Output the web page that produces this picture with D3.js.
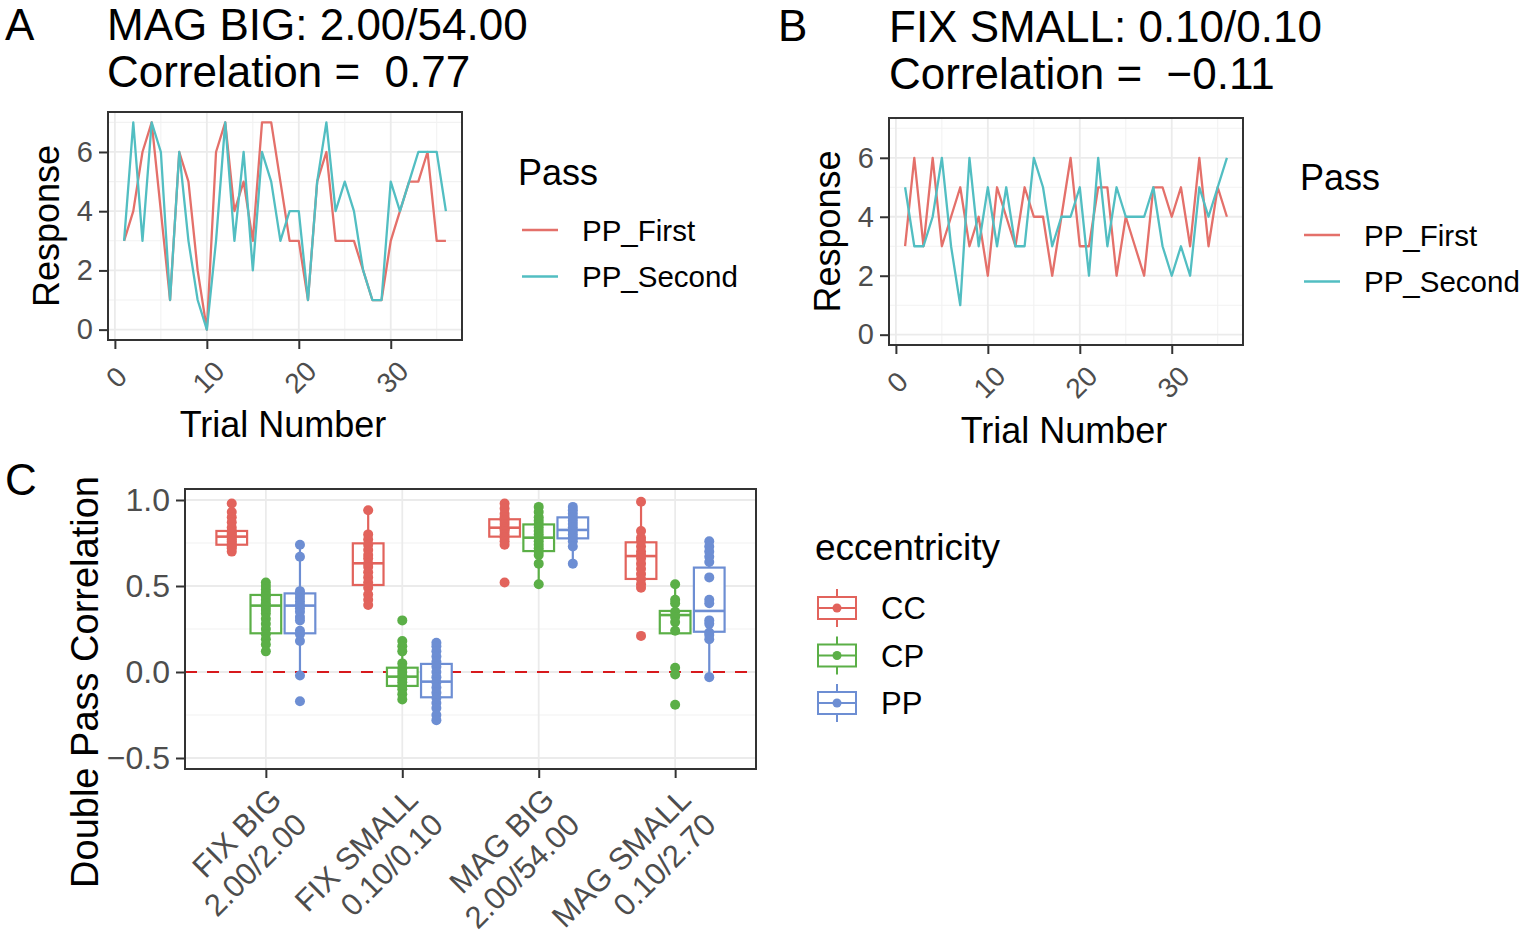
<!DOCTYPE html>
<html><head><meta charset="utf-8">
<script src="https://cdn.jsdelivr.net/npm/d3@7"></script>
<style>
body{margin:0;background:#fff;}
svg{display:block;font-family:"Liberation Sans",Arial,sans-serif;}
text{white-space:pre;}
</style></head><body>
<svg id="chart" width="1524" height="936"></svg>
<script>
// ---------------- DATA ----------------
const trials = [1,2,3,4,5,6,7,8,9,10,11,12,13,14,15,16,17,18,19,20,21,22,23,24,25,26,27,28,29,30,31,32,33,34,35,36];
const passNames = ["PP_First", "PP_Second"];
const passColors = ["#E4706A", "#52BEC2"];

// Panel A: MAG BIG 2.00/54.00
const magBigFirst  = [3,4,6,7,4,1,6,5,2,0,6,7,4,5,3,7,7,5,3,3,1,5,6,3,3,3,2,1,1,3,4,5,5,6,3,3];
const magBigSecond = [3,7,3,7,6,1,6,3,1,0,3,7,3,6,2,6,5,3,4,4,1,5,7,4,5,4,2,1,1,5,4,5,6,6,6,4];
// Panel B: FIX SMALL 0.10/0.10
const fixSmallFirst  = [3,6,3,6,3,4,5,3,4,2,5,4,3,5,4,4,2,4,6,3,3,5,5,2,4,3,2,5,5,4,5,3,6,3,5,4];
const fixSmallSecond = [5,3,3,4,6,3,1,6,3,5,3,5,3,3,6,5,3,4,4,5,2,6,3,5,4,4,4,5,3,2,3,2,5,4,5,6];

const trialTicks = [0,10,20,30];
const trialMinor = [5,15,25,35];
const responseTicks = [0,2,4,6];
const responseMinor = [1,3,5,7];

// Panel C
const conditions = ["FIX BIG", "FIX SMALL", "MAG BIG", "MAG SMALL"];
const conditionSub = ["2.00/2.00", "0.10/0.10", "2.00/54.00", "0.10/2.70"];
const eccentricities = ["CC", "CP", "PP"];
const eccColors = ["#E2635C", "#5BAF47", "#6D8ED3"];
const corrTicks = [-0.5, 0, 0.5, 1.0];
const corrTickLabels = ["\u22120.5", "0.0", "0.5", "1.0"];
const corrMinor = [-0.25, 0.25, 0.75];

// box stats [condition][eccentricity]
const boxQ1  = [[0.740, 0.225, 0.225], [0.506, -0.081, -0.147], [0.787, 0.703, 0.777], [0.541, 0.225, 0.234]];
const boxMed = [[0.787, 0.386, 0.386], [0.632, -0.027, -0.056], [0.839, 0.781, 0.826], [0.674, 0.331, 0.355]];
const boxQ3  = [[0.820, 0.448, 0.457], [0.748, 0.025, 0.047], [0.888, 0.858, 0.899], [0.754, 0.355, 0.607]];
const whiskLo = [[0.700, 0.118, -0.017], [0.386, -0.163, -0.280], [0.738, 0.514, 0.632], [0.486, 0.225, -0.033]];
const whiskHi = [[0.980, 0.525, 0.738], [0.936, 0.176, 0.170], [0.980, 0.961, 0.961], [0.994, 0.506, 0.758]];

const ptsFixBig = [
  [0.98,0.93,0.90,0.87,0.84,0.82,0.81,0.80,0.79,0.78,0.77,0.76,0.75,0.74,0.73,0.72,0.70],
  [0.52,0.50,0.48,0.46,0.44,0.42,0.40,0.38,0.36,0.34,0.31,0.28,0.25,0.22,0.19,0.16,0.12],
  [0.74,0.67,0.47,0.45,0.43,0.41,0.39,0.37,0.35,0.32,0.30,0.24,0.22,0.18,-0.02,-0.17]
];
const ptsFixSmall = [
  [0.94,0.80,0.77,0.74,0.71,0.68,0.66,0.63,0.61,0.58,0.55,0.52,0.49,0.45,0.42,0.39],
  [0.30,0.18,0.15,0.12,0.05,0.02,0.00,-0.02,-0.04,-0.06,-0.08,-0.10,-0.13,-0.16],
  [0.17,0.15,0.12,0.09,0.06,0.03,0.00,-0.03,-0.06,-0.09,-0.12,-0.15,-0.18,-0.21,-0.25,-0.28]
];
const ptsMagBig = [
  [0.98,0.95,0.92,0.90,0.88,0.86,0.84,0.83,0.82,0.80,0.78,0.76,0.74,0.52],
  [0.96,0.93,0.90,0.88,0.86,0.84,0.82,0.80,0.78,0.76,0.74,0.72,0.70,0.68,0.63,0.51],
  [0.96,0.94,0.92,0.90,0.88,0.86,0.84,0.82,0.80,0.78,0.76,0.73,0.63]
];
const ptsMagSmall = [
  [0.99,0.82,0.78,0.76,0.73,0.70,0.68,0.66,0.63,0.60,0.57,0.54,0.51,0.49,0.21],
  [0.51,0.42,0.40,0.35,0.32,0.29,0.24,0.025,-0.014,-0.19],
  [0.76,0.73,0.70,0.67,0.64,0.55,0.42,0.40,0.30,0.28,0.23,0.215,0.19,-0.03]
];
const allPoints = [ptsFixBig, ptsFixSmall, ptsMagBig, ptsMagSmall];

// ---------------- DRAW ----------------
const svg = d3.select("#chart");
const GRID = "#EBEBEB", GRIDMINOR = "#F2F2F2", BORDER = "#333333", TICKTXT = "#4D4D4D";

function tag(txt, x, y) {
  svg.append("text").attr("x", x).attr("y", y).attr("font-size", 44).attr("fill", "#000").text(txt);
}
tag("A", 5, 40); tag("B", 778, 41); tag("C", 5, 495);

function linePanel(o) {
  const g = svg.append("g");
  const x = d3.scaleLinear().domain([-0.75, 37.75]).range([o.left, o.right]);
  const y = d3.scaleLinear().domain([-0.35, 7.35]).range([o.bottom, o.top]);
  // titles
  g.append("text").attr("x", o.titleX).attr("y", o.titleY).attr("font-size", 44).text(o.title1);
  g.append("text").attr("x", o.titleX).attr("y", o.titleY + 47).attr("font-size", 44).text(o.title2);
  // grid
  g.selectAll(".vmin").data(trialMinor).join("line")
    .attr("x1", d => x(d)).attr("x2", d => x(d)).attr("y1", o.top).attr("y2", o.bottom)
    .attr("stroke", GRIDMINOR).attr("stroke-width", 1.1);
  g.selectAll(".hmin").data(responseMinor).join("line")
    .attr("y1", d => y(d)).attr("y2", d => y(d)).attr("x1", o.left).attr("x2", o.right)
    .attr("stroke", GRIDMINOR).attr("stroke-width", 1.1);
  g.selectAll(".vmaj").data(trialTicks).join("line")
    .attr("x1", d => x(d)).attr("x2", d => x(d)).attr("y1", o.top).attr("y2", o.bottom)
    .attr("stroke", GRID).attr("stroke-width", 1.8);
  g.selectAll(".hmaj").data(responseTicks).join("line")
    .attr("y1", d => y(d)).attr("y2", d => y(d)).attr("x1", o.left).attr("x2", o.right)
    .attr("stroke", GRID).attr("stroke-width", 1.8);
  // lines
  const line = d3.line().x((d, i) => x(trials[i])).y(d => y(d));
  [o.first, o.second].forEach((s, k) => {
    g.append("path").datum(s).attr("d", line).attr("fill", "none")
      .attr("stroke", passColors[k]).attr("stroke-width", 2.3).attr("stroke-linejoin", "round");
  });
  // border
  g.append("rect").attr("x", o.left).attr("y", o.top).attr("width", o.right - o.left).attr("height", o.bottom - o.top)
    .attr("fill", "none").attr("stroke", BORDER).attr("stroke-width", 2);
  // y axis
  const ya = g.append("g").attr("transform", `translate(${o.left},0)`)
    .call(d3.axisLeft(y).tickValues(responseTicks).tickSize(9).tickPadding(6));
  ya.select(".domain").remove();
  ya.selectAll("line").attr("stroke", BORDER).attr("stroke-width", 2);
  ya.selectAll("text").attr("font-size", 29).attr("fill", TICKTXT).attr("font-family", "Liberation Sans, Arial, sans-serif");
  // x axis
  const xa = g.append("g").attr("transform", `translate(0,${o.bottom})`)
    .call(d3.axisBottom(x).tickValues(trialTicks).tickSize(9).tickFormat(d3.format("d")));
  xa.select(".domain").remove();
  xa.selectAll("line").attr("stroke", BORDER).attr("stroke-width", 2);
  xa.selectAll("text").attr("font-size", 28).attr("fill", TICKTXT).attr("font-family", "Liberation Sans, Arial, sans-serif")
    .attr("y", 0).attr("dy", "0.35em").attr("text-anchor", "middle")
    .attr("transform", "translate(1,37) rotate(-45)");
  // axis titles
  g.append("text").attr("x", (o.left + o.right) / 2 - 2).attr("y", o.xTitleY).attr("text-anchor", "middle")
    .attr("font-size", 36).text("Trial Number");
  g.append("text").attr("transform", `translate(${o.yTitleX},${(o.top + o.bottom) / 2}) rotate(-90)`)
    .attr("text-anchor", "middle").attr("font-size", 36).text("Response");
  // legend
  g.append("text").attr("x", o.legX).attr("y", o.legY).attr("font-size", 36).text("Pass");
  passNames.forEach((n, k) => {
    const cy = o.legY + 45 + k * 46.5;
    g.append("line").attr("x1", o.legX + 4).attr("x2", o.legX + 40).attr("y1", cy).attr("y2", cy)
      .attr("stroke", passColors[k]).attr("stroke-width", 2.3);
    g.append("text").attr("x", o.legX + 64).attr("y", cy).attr("dy", "0.36em").attr("font-size", 29.5).text(n);
  });
}

linePanel({left: 108, right: 462, top: 112, bottom: 340, first: magBigFirst, second: magBigSecond,
  title1: "MAG BIG: 2.00/54.00", title2: "Correlation =  0.77", titleX: 107, titleY: 40,
  xTitleY: 437, yTitleX: 59, legX: 518, legY: 185});
linePanel({left: 889, right: 1243, top: 118, bottom: 345, first: fixSmallFirst, second: fixSmallSecond,
  title1: "FIX SMALL: 0.10/0.10", title2: "Correlation =  \u22120.11", titleX: 889, titleY: 42,
  xTitleY: 443, yTitleX: 840, legX: 1300, legY: 190});

// ---------- Panel C ----------
(function () {
  const left = 185, right = 756, top = 489, bottom = 769;
  const g = svg.append("g");
  const x = d3.scalePoint().domain(conditions).range([184, 757]).padding(0.6);
  const y = d3.scaleLinear().domain([-0.5, 1.0]).range([758, 500]);
  const step = x.step();
  const dodge = step * 0.25, boxW = step * 0.225;

  g.selectAll(".hmin").data(corrMinor).join("line")
    .attr("y1", d => y(d)).attr("y2", d => y(d)).attr("x1", left).attr("x2", right)
    .attr("stroke", GRIDMINOR).attr("stroke-width", 1.1);
  g.selectAll(".hmaj").data(corrTicks).join("line")
    .attr("y1", d => y(d)).attr("y2", d => y(d)).attr("x1", left).attr("x2", right)
    .attr("stroke", GRID).attr("stroke-width", 1.8);
  g.selectAll(".vmaj").data(conditions).join("line")
    .attr("x1", d => x(d)).attr("x2", d => x(d)).attr("y1", top).attr("y2", bottom)
    .attr("stroke", GRID).attr("stroke-width", 1.8);

  // zero line
  g.append("line").attr("x1", left).attr("x2", right).attr("y1", y(0)).attr("y2", y(0))
    .attr("stroke", "#D7191C").attr("stroke-width", 2.2).attr("stroke-dasharray", "12,10");

  conditions.forEach((c, i) => {
    eccentricities.forEach((e, j) => {
      const cx = x(c) + (j - 1) * dodge;
      const col = eccColors[j];
      const bg = g.append("g");
      bg.append("line").attr("x1", cx).attr("x2", cx).attr("y1", y(boxQ3[i][j])).attr("y2", y(whiskHi[i][j]))
        .attr("stroke", col).attr("stroke-width", 2.2);
      bg.append("line").attr("x1", cx).attr("x2", cx).attr("y1", y(boxQ1[i][j])).attr("y2", y(whiskLo[i][j]))
        .attr("stroke", col).attr("stroke-width", 2.2);
      bg.append("rect").attr("x", cx - boxW / 2).attr("width", boxW)
        .attr("y", y(boxQ3[i][j])).attr("height", y(boxQ1[i][j]) - y(boxQ3[i][j]))
        .attr("fill", "#fff").attr("stroke", col).attr("stroke-width", 2.2);
      bg.append("line").attr("x1", cx - boxW / 2).attr("x2", cx + boxW / 2)
        .attr("y1", y(boxMed[i][j])).attr("y2", y(boxMed[i][j]))
        .attr("stroke", col).attr("stroke-width", 2.6);
      bg.selectAll("circle").data(allPoints[i][j]).join("circle")
        .attr("cx", cx).attr("cy", d => y(d)).attr("r", 5).attr("fill", col);
    });
  });

  g.append("rect").attr("x", left).attr("y", top).attr("width", right - left).attr("height", bottom - top)
    .attr("fill", "none").attr("stroke", BORDER).attr("stroke-width", 2);

  const ya = g.append("g").attr("transform", `translate(${left},0)`)
    .call(d3.axisLeft(y).tickValues(corrTicks).tickSize(9).tickPadding(6).tickFormat((d, i) => corrTickLabels[i]));
  ya.select(".domain").remove();
  ya.selectAll("line").attr("stroke", BORDER).attr("stroke-width", 2);
  ya.selectAll("text").attr("font-size", 32).attr("fill", TICKTXT).attr("font-family", "Liberation Sans, Arial, sans-serif");

  const xa = g.append("g").attr("transform", `translate(0,${bottom})`)
    .call(d3.axisBottom(x).tickSize(9).tickFormat(""));
  xa.select(".domain").remove();
  xa.selectAll("line").attr("stroke", BORDER).attr("stroke-width", 2);
  conditions.forEach((c, i) => {
    const t = g.append("text").attr("transform", `translate(${x(c) + 1},${bottom + 16}) rotate(-45)`)
      .attr("text-anchor", "end").attr("font-size", 31).attr("fill", TICKTXT);
    t.append("tspan").attr("x", 0).attr("y", 0).attr("dy", "0.75em").text(c);
    t.append("tspan").attr("x", 0).attr("y", 0).attr("dy", "1.9em").text(conditionSub[i]);
  });

  g.append("text").attr("transform", `translate(98,${(top + bottom) / 2 + 53}) rotate(-90)`)
    .attr("text-anchor", "middle").attr("font-size", 38).text("Double Pass Correlation");

  // legend
  g.append("text").attr("x", 815).attr("y", 560).attr("font-size", 37).text("eccentricity");
  eccentricities.forEach((e, j) => {
    const cy = 608 + j * 47.5, cx = 837, col = eccColors[j];
    g.append("line").attr("x1", cx).attr("x2", cx).attr("y1", cy - 19).attr("y2", cy + 19).attr("stroke", col).attr("stroke-width", 2);
    g.append("rect").attr("x", cx - 19).attr("y", cy - 11).attr("width", 38).attr("height", 22)
      .attr("fill", "#fff").attr("stroke", col).attr("stroke-width", 2);
    g.append("line").attr("x1", cx - 19).attr("x2", cx + 19).attr("y1", cy).attr("y2", cy).attr("stroke", col).attr("stroke-width", 2);
    g.append("circle").attr("cx", cx).attr("cy", cy).attr("r", 4.5).attr("fill", col);
    g.append("text").attr("x", 881).attr("y", cy).attr("dy", "0.36em").attr("font-size", 31).text(e);
  });
})();
</script>
</body></html>
